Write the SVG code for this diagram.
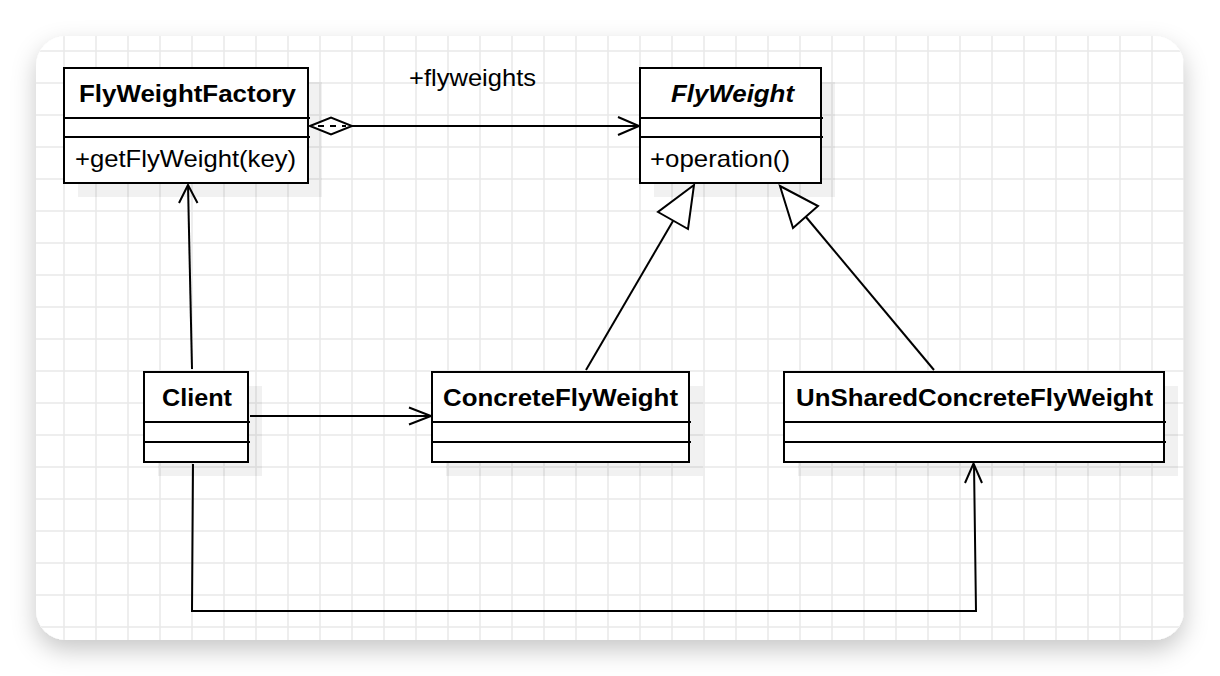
<svg xmlns="http://www.w3.org/2000/svg" width="1220" height="676" viewBox="0 0 1220 676">
  <defs>
    <filter id="cardShadow" x="-10%" y="-10%" width="120%" height="130%">
      <feDropShadow dx="0" dy="10" stdDeviation="12" flood-color="#000" flood-opacity="0.22"/>
    </filter>
    <clipPath id="cardClip">
      <rect x="36" y="36" width="1148" height="604" rx="30" ry="30"/>
    </clipPath>
  </defs>
  <style>
    .box { fill: #ffffff; stroke: #000000; stroke-width: 2; }
    .shadow { fill: #000000; fill-opacity: 0.055; stroke: none; }
    .div { stroke: #000000; stroke-width: 2; fill: none; }
    .title { font-family: "Liberation Sans", Arial, sans-serif; font-size: 24px; font-weight: bold; fill: #000; }
    .member { font-family: "Liberation Sans", Arial, sans-serif; font-size: 24px; fill: #000; }
    .edge { stroke: #000000; stroke-width: 2; fill: none; }
    .head { stroke: #000000; stroke-width: 2; fill: #ffffff; }
    .grid { stroke: #e8e8e8; stroke-width: 1.5; }
  </style>

  <rect x="0" y="0" width="1220" height="676" fill="#ffffff"/>
  <rect x="36" y="36" width="1148" height="604" rx="30" ry="30" fill="#ffffff" filter="url(#cardShadow)"/>

  <g id="grid" clip-path="url(#cardClip)">
    <g class="grid">
      <line x1="64" y1="36" x2="64" y2="640"/><line x1="96" y1="36" x2="96" y2="640"/><line x1="128" y1="36" x2="128" y2="640"/><line x1="160" y1="36" x2="160" y2="640"/><line x1="192" y1="36" x2="192" y2="640"/><line x1="224" y1="36" x2="224" y2="640"/><line x1="256" y1="36" x2="256" y2="640"/><line x1="288" y1="36" x2="288" y2="640"/><line x1="320" y1="36" x2="320" y2="640"/><line x1="352" y1="36" x2="352" y2="640"/><line x1="384" y1="36" x2="384" y2="640"/><line x1="416" y1="36" x2="416" y2="640"/><line x1="448" y1="36" x2="448" y2="640"/><line x1="480" y1="36" x2="480" y2="640"/><line x1="512" y1="36" x2="512" y2="640"/><line x1="544" y1="36" x2="544" y2="640"/><line x1="576" y1="36" x2="576" y2="640"/><line x1="608" y1="36" x2="608" y2="640"/><line x1="640" y1="36" x2="640" y2="640"/><line x1="672" y1="36" x2="672" y2="640"/><line x1="704" y1="36" x2="704" y2="640"/><line x1="736" y1="36" x2="736" y2="640"/><line x1="768" y1="36" x2="768" y2="640"/><line x1="800" y1="36" x2="800" y2="640"/><line x1="832" y1="36" x2="832" y2="640"/><line x1="864" y1="36" x2="864" y2="640"/><line x1="896" y1="36" x2="896" y2="640"/><line x1="928" y1="36" x2="928" y2="640"/><line x1="960" y1="36" x2="960" y2="640"/><line x1="992" y1="36" x2="992" y2="640"/><line x1="1024" y1="36" x2="1024" y2="640"/><line x1="1056" y1="36" x2="1056" y2="640"/><line x1="1088" y1="36" x2="1088" y2="640"/><line x1="1120" y1="36" x2="1120" y2="640"/><line x1="1152" y1="36" x2="1152" y2="640"/><line x1="1184" y1="36" x2="1184" y2="640"/>
      <line x1="36" y1="51" x2="1184" y2="51"/><line x1="36" y1="83" x2="1184" y2="83"/><line x1="36" y1="115" x2="1184" y2="115"/><line x1="36" y1="147" x2="1184" y2="147"/><line x1="36" y1="179" x2="1184" y2="179"/><line x1="36" y1="211" x2="1184" y2="211"/><line x1="36" y1="243" x2="1184" y2="243"/><line x1="36" y1="275" x2="1184" y2="275"/><line x1="36" y1="307" x2="1184" y2="307"/><line x1="36" y1="339" x2="1184" y2="339"/><line x1="36" y1="371" x2="1184" y2="371"/><line x1="36" y1="403" x2="1184" y2="403"/><line x1="36" y1="435" x2="1184" y2="435"/><line x1="36" y1="467" x2="1184" y2="467"/><line x1="36" y1="499" x2="1184" y2="499"/><line x1="36" y1="531" x2="1184" y2="531"/><line x1="36" y1="563" x2="1184" y2="563"/><line x1="36" y1="595" x2="1184" y2="595"/><line x1="36" y1="627" x2="1184" y2="627"/>
    </g>
  </g>

  <g id="shadows">
    <rect class="shadow" x="78" y="82" width="244" height="115"/>
    <rect class="shadow" x="654" y="82" width="181" height="115"/>
    <rect class="shadow" x="158" y="386" width="104" height="90"/>
    <rect class="shadow" x="446" y="386" width="257" height="90"/>
    <rect class="shadow" x="798" y="386" width="380" height="90"/>
  </g>

  <g id="connectors">
    <!-- aggregation FlyWeightFactory -> FlyWeight -->
    <line class="edge" x1="352" y1="126" x2="638" y2="126"/>
    <polyline class="edge" points="618,117 639,126 618,135"/>
    <polygon class="head" points="310,126 331,117.5 352,126 331,134.5"/>
    <line class="edge" x1="318" y1="126" x2="346" y2="126" stroke-dasharray="6 6" stroke-width="1.8"/>
    <!-- Client -> FlyWeightFactory -->
    <line class="edge" x1="192" y1="369" x2="188" y2="185"/>
    <polyline class="edge" points="179,203 188,185 197.5,203"/>
    <!-- Client -> ConcreteFlyWeight -->
    <line class="edge" x1="250" y1="416" x2="431" y2="416"/>
    <polyline class="edge" points="409,407.5 431,416 409,424.5"/>
    <!-- Client -> UnSharedConcreteFlyWeight -->
    <polyline class="edge" points="193,464 192,611 976,611 974,464"/>
    <polyline class="edge" points="965,483 973.5,463.5 982,483"/>
    <!-- ConcreteFlyWeight -> FlyWeight (generalization) -->
    <line class="edge" x1="586" y1="370" x2="673" y2="221"/>
    <polygon class="head" points="694,185 658,212 688,229"/>
    <!-- UnSharedConcreteFlyWeight -> FlyWeight (generalization) -->
    <line class="edge" x1="934" y1="370" x2="806" y2="217"/>
    <polygon class="head" points="780,186 818,206 793,228"/>
    <text class="member" x="409" y="86" textLength="127" lengthAdjust="spacingAndGlyphs">+flyweights</text>
  </g>

  <g id="FlyWeightFactory">
    <rect class="box" x="64" y="68" width="244" height="115"/>
    <line class="div" x1="64" y1="118" x2="310" y2="118"/>
    <line class="div" x1="64" y1="137" x2="310" y2="137"/>
    <text class="title" x="79" y="102" textLength="217" lengthAdjust="spacingAndGlyphs">FlyWeightFactory</text>
    <text class="member" x="75" y="167" textLength="221" lengthAdjust="spacingAndGlyphs">+getFlyWeight(key)</text>
  </g>

  <g id="FlyWeight">
    <rect class="box" x="640" y="68" width="181" height="115"/>
    <line class="div" x1="640" y1="118" x2="823" y2="118"/>
    <line class="div" x1="640" y1="137" x2="823" y2="137"/>
    <text class="title" x="671" y="102" font-style="italic" textLength="123" lengthAdjust="spacingAndGlyphs">FlyWeight</text>
    <text class="member" x="650" y="167" textLength="140" lengthAdjust="spacingAndGlyphs">+operation()</text>
  </g>

  <g id="Client">
    <rect class="box" x="144" y="372" width="104" height="90"/>
    <line class="div" x1="144" y1="422" x2="250" y2="422"/>
    <line class="div" x1="144" y1="442" x2="250" y2="442"/>
    <text class="title" x="162" y="406" textLength="70" lengthAdjust="spacingAndGlyphs">Client</text>
  </g>

  <g id="ConcreteFlyWeight">
    <rect class="box" x="432" y="372" width="257" height="90"/>
    <line class="div" x1="432" y1="422" x2="691" y2="422"/>
    <line class="div" x1="432" y1="442" x2="691" y2="442"/>
    <text class="title" x="443" y="406" textLength="235" lengthAdjust="spacingAndGlyphs">ConcreteFlyWeight</text>
  </g>

  <g id="UnSharedConcreteFlyWeight">
    <rect class="box" x="784" y="372" width="380" height="90"/>
    <line class="div" x1="784" y1="422" x2="1166" y2="422"/>
    <line class="div" x1="784" y1="442" x2="1166" y2="442"/>
    <text class="title" x="796" y="406" textLength="357" lengthAdjust="spacingAndGlyphs">UnSharedConcreteFlyWeight</text>
  </g>
</svg>
